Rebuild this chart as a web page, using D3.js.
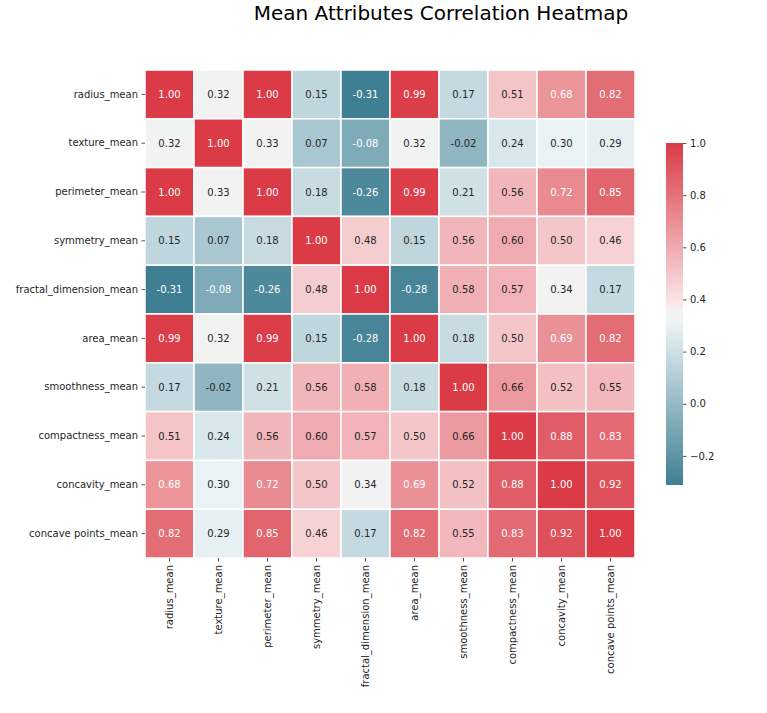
<!DOCTYPE html>
<html><head><meta charset="utf-8">
<script src="https://cdn.jsdelivr.net/npm/d3@7"></script>
<style>body{margin:0;background:#fff}svg{display:block}text{font-family:"DejaVu Sans",sans-serif}</style>
</head><body><svg id="c" width="767" height="713"></svg>
<script>
const title = "Mean Attributes Correlation Heatmap";
const features = ["radius_mean","texture_mean","perimeter_mean","symmetry_mean","fractal_dimension_mean","area_mean","smoothness_mean","compactness_mean","concavity_mean","concave points_mean"];
const row_radius = [1.00,0.32,1.00,0.15,-0.31,0.99,0.17,0.51,0.68,0.82];
const row_texture = [0.32,1.00,0.33,0.07,-0.08,0.32,-0.02,0.24,0.30,0.29];
const row_perimeter = [1.00,0.33,1.00,0.18,-0.26,0.99,0.21,0.56,0.72,0.85];
const row_symmetry = [0.15,0.07,0.18,1.00,0.48,0.15,0.56,0.60,0.50,0.46];
const row_fractal = [-0.31,-0.08,-0.26,0.48,1.00,-0.28,0.58,0.57,0.34,0.17];
const row_area = [0.99,0.32,0.99,0.15,-0.28,1.00,0.18,0.50,0.69,0.82];
const row_smoothness = [0.17,-0.02,0.21,0.56,0.58,0.18,1.00,0.66,0.52,0.55];
const row_compactness = [0.51,0.24,0.56,0.60,0.57,0.50,0.66,1.00,0.88,0.83];
const row_concavity = [0.68,0.30,0.72,0.50,0.34,0.69,0.52,0.88,1.00,0.92];
const row_concave = [0.82,0.29,0.85,0.46,0.17,0.82,0.55,0.83,0.92,1.00];
const matrix = [row_radius,row_texture,row_perimeter,row_symmetry,row_fractal,row_area,row_smoothness,row_compactness,row_concavity,row_concave];
const cbarTicks = [-0.2,0.0,0.2,0.4,0.6,0.8,1.0];
const vmin = -0.3116, vmax = 1.0;

const svg = d3.select("#c");
const TXT = "#262626";

// diverging colormap (seaborn diverging_palette(220,10) style)
const cmapT = d3.scaleLinear()
  .domain([0, 122/255, 123/255, 132/255, 133/255, 1])
  .range(["#3f7f93","#edf5f7","#f2f2f2","#f2f2f2","#fbeaeb","#da3b46"])
  .interpolate(d3.interpolateRgb).clamp(true);
const norm = d3.scaleLinear().domain([vmin, vmax]).range([0,1]).clamp(true);
const color = v => cmapT(norm(v));

function lum(c){
  const r = d3.rgb(c);
  const f = x => { x/=255; return x<=0.03928 ? x/12.92 : Math.pow((x+0.055)/1.055,2.4); };
  return 0.2126*f(r.r)+0.7152*f(r.g)+0.0722*f(r.b);
}

const x = d3.scaleBand().domain(features).range([145,635]);
const y = d3.scaleBand().domain(features).range([70,558]);

svg.append("text").attr("x",441).attr("y",20).attr("text-anchor","middle")
  .attr("font-size",20).attr("fill","#000").text(title);

const cells = [];
matrix.forEach((row,i)=>row.forEach((v,j)=>cells.push({r:features[i],c:features[j],v})));

const g = svg.append("g");
g.selectAll("rect").data(cells).join("rect")
  .attr("x",d=>x(d.c)).attr("y",d=>y(d.r))
  .attr("width",x.bandwidth()).attr("height",y.bandwidth())
  .attr("fill",d=>color(d.v)).attr("stroke","#fff").attr("stroke-width",1.5);
g.selectAll("text").data(cells).join("text")
  .attr("x",d=>x(d.c)+x.bandwidth()/2).attr("y",d=>y(d.r)+y.bandwidth()/2)
  .attr("dy","0.35em").attr("text-anchor","middle").attr("font-size",10)
  .attr("fill",d=>lum(color(d.v))>0.42?TXT:"#fff")
  .text(d=>d.v.toFixed(2));

// y axis
const ya = svg.append("g").attr("transform","translate(145,0)")
  .call(d3.axisLeft(y).tickSize(3.5).tickPadding(3.5));
ya.select(".domain").remove();
ya.selectAll("line").attr("stroke",TXT).attr("stroke-width",0.8);
ya.selectAll("text").attr("font-size",10).attr("fill",TXT).style("font-family","DejaVu Sans");

// x axis
const xa = svg.append("g").attr("transform","translate(0,558)")
  .call(d3.axisBottom(x).tickSize(3.5).tickPadding(3.5));
xa.select(".domain").remove();
xa.selectAll("line").attr("stroke",TXT).attr("stroke-width",0.8);
xa.selectAll("text").attr("font-size",10).attr("fill",TXT).style("font-family","DejaVu Sans")
  .attr("transform","rotate(-90)").attr("text-anchor","end")
  .attr("x",-7).attr("y",0).attr("dy","0.35em");

// colorbar
const cb = d3.scaleLinear().domain([vmin,vmax]).range([485,143]);
const defs = svg.append("defs");
const grad = defs.append("linearGradient").attr("id","cbg")
  .attr("x1",0).attr("y1",1).attr("x2",0).attr("y2",0);
d3.range(0,257).forEach(k=>{
  const t = k/256;
  grad.append("stop").attr("offset",t).attr("stop-color",cmapT(t));
});
svg.append("rect").attr("x",666).attr("y",143).attr("width",17).attr("height",342)
  .attr("fill","url(#cbg)");
const ca = svg.append("g").attr("transform","translate(683,0)")
  .call(d3.axisRight(cb).tickValues(cbarTicks).tickSize(3.5).tickPadding(3.5)
    .tickFormat(d=>d3.format(".1f")(d).replace("-","\u2212")));
ca.select(".domain").remove();
ca.selectAll("line").attr("stroke",TXT).attr("stroke-width",0.8);
ca.selectAll("text").attr("font-size",10).attr("fill",TXT).style("font-family","DejaVu Sans");
</script></body></html>
